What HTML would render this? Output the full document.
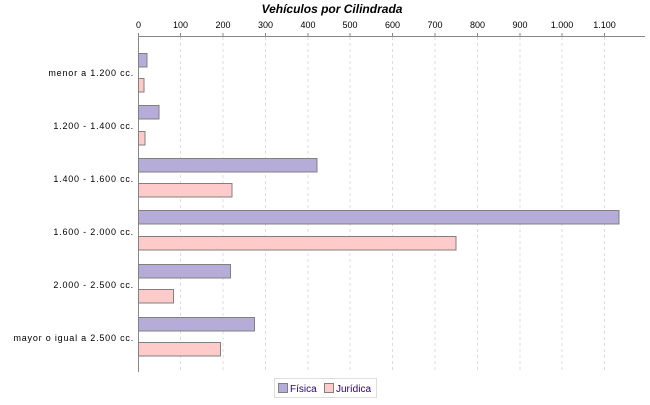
<!DOCTYPE html><html><head><style>body{margin:0;background:#fff}</style></head><body>
<svg width="650" height="400" xmlns="http://www.w3.org/2000/svg" font-family="Liberation Sans, sans-serif">
<rect width="650" height="400" fill="#fff"/>
<text x="332" y="13" text-anchor="middle" font-size="12" font-weight="bold" font-style="italic">Vehículos por Cilindrada</text>
<g stroke="#ddd" stroke-dasharray="3,3">
<line x1="180.5" y1="37" x2="180.5" y2="372"/><line x1="223" y1="37" x2="223" y2="372"/><line x1="265.5" y1="37" x2="265.5" y2="372"/><line x1="308" y1="37" x2="308" y2="372"/><line x1="350" y1="37" x2="350" y2="372"/><line x1="392.5" y1="37" x2="392.5" y2="372"/><line x1="435" y1="37" x2="435" y2="372"/><line x1="477.5" y1="37" x2="477.5" y2="372"/><line x1="520" y1="37" x2="520" y2="372"/><line x1="562" y1="37" x2="562" y2="372"/><line x1="604.5" y1="37" x2="604.5" y2="372"/>
</g>
<line x1="138" y1="36.5" x2="645" y2="36.5" stroke="#888"/>
<line x1="138.5" y1="36" x2="138.5" y2="372" stroke="#888"/>
<g stroke="#888">
<line x1="138.5" y1="33" x2="138.5" y2="36"/><line x1="180.5" y1="33" x2="180.5" y2="36"/><line x1="223" y1="33" x2="223" y2="36"/><line x1="265.5" y1="33" x2="265.5" y2="36"/><line x1="308" y1="33" x2="308" y2="36"/><line x1="350" y1="33" x2="350" y2="36"/><line x1="392.5" y1="33" x2="392.5" y2="36"/><line x1="435" y1="33" x2="435" y2="36"/><line x1="477.5" y1="33" x2="477.5" y2="36"/><line x1="520" y1="33" x2="520" y2="36"/><line x1="562" y1="33" x2="562" y2="36"/><line x1="604.5" y1="33" x2="604.5" y2="36"/>
</g>
<g font-size="9" text-anchor="middle" fill="#000">
<text x="138.5" y="28">0</text><text x="180.5" y="28">100</text><text x="223" y="28">200</text><text x="265.5" y="28">300</text><text x="308" y="28">400</text><text x="350" y="28">500</text><text x="392.5" y="28">600</text><text x="435" y="28">700</text><text x="477.5" y="28">800</text><text x="520" y="28">900</text><text x="562" y="28">1.000</text><text x="604.5" y="28">1.100</text>
</g>
<g font-size="9" text-anchor="end" letter-spacing="0.8">
<text x="134" y="76">menor a 1.200 cc.</text>
<text x="134" y="129">1.200 - 1.400 cc.</text>
<text x="134" y="182">1.400 - 1.600 cc.</text>
<text x="134" y="235">1.600 - 2.000 cc.</text>
<text x="134" y="288">2.000 - 2.500 cc.</text>
<text x="134" y="341">mayor o igual a 2.500 cc.</text>
</g>
<g stroke="#808080" stroke-width="1">
<rect x="138.5" y="53.5" width="8.5" height="13.5" fill="#b5acd7"/>
<rect x="138.5" y="78.5" width="5.5" height="13.5" fill="#ffcaca"/>
<rect x="138.5" y="105.5" width="20.5" height="13.5" fill="#b5acd7"/>
<rect x="138.5" y="131.5" width="6.5" height="13.5" fill="#ffcaca"/>
<rect x="138.5" y="158.5" width="178.5" height="13.5" fill="#b5acd7"/>
<rect x="138.5" y="183.5" width="93.5" height="13.5" fill="#ffcaca"/>
<rect x="138.5" y="210.5" width="480.5" height="13.5" fill="#b5acd7"/>
<rect x="138.5" y="236.5" width="317.5" height="13.5" fill="#ffcaca"/>
<rect x="138.5" y="264.5" width="92" height="13.5" fill="#b5acd7"/>
<rect x="138.5" y="289.5" width="35" height="13.5" fill="#ffcaca"/>
<rect x="138.5" y="317.5" width="116" height="13.5" fill="#b5acd7"/>
<rect x="138.5" y="342.5" width="82" height="13.5" fill="#ffcaca"/>
</g>
<rect x="274.5" y="378.5" width="102" height="19" fill="#fff" stroke="#ddd"/>
<rect x="278.5" y="383.5" width="9" height="9" fill="#b5acd7" stroke="#808080"/>
<text x="290" y="392" font-size="10" fill="#2a006e">Física</text>
<rect x="324.5" y="383.5" width="9" height="9" fill="#ffcaca" stroke="#808080"/>
<text x="336" y="392" font-size="10" fill="#2a006e">Jurídica</text>
</svg>
</body></html>
